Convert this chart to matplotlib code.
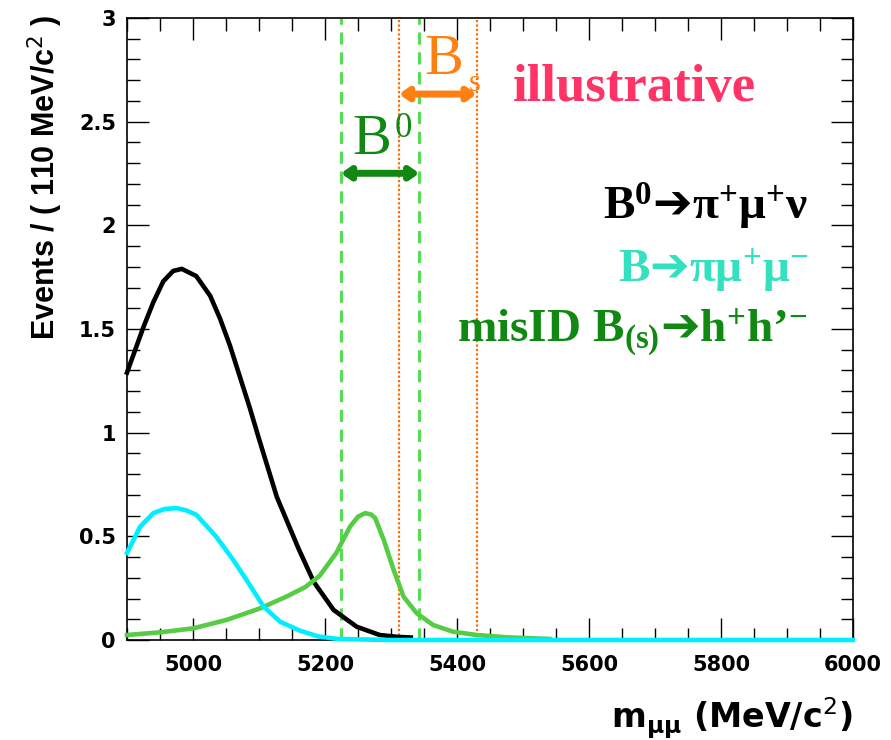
import matplotlib
matplotlib.use('Agg')
import matplotlib.pyplot as plt
from matplotlib.ticker import MultipleLocator

# curves (x in MeV/c^2, y in events)
black_x = [4900, 4925, 4940, 4955, 4970, 4983, 5005, 5026, 5041, 5056, 5071, 5086,
           5100, 5127, 5160, 5183, 5213, 5248, 5283, 5310, 5330]
black_y = [1.29, 1.51, 1.63, 1.73, 1.78, 1.79, 1.755, 1.66, 1.55, 1.42, 1.27, 1.12,
           0.97, 0.69, 0.44, 0.28, 0.145, 0.064, 0.024, 0.015, 0.012]

cyan_x = [4900, 4920, 4940, 4957, 4975, 4990, 5005, 5035, 5061, 5081, 5107, 5132,
          5162, 5190, 5220, 5300, 6000]
cyan_y = [0.42, 0.547, 0.612, 0.632, 0.636, 0.625, 0.604, 0.499, 0.386, 0.29, 0.161, 0.088,
          0.045, 0.017, 0.005, 0.0, 0.0]

green_x = [4900, 4950, 5000, 5051, 5102, 5142, 5170, 5192, 5217, 5238, 5250, 5261,
           5270, 5276, 5289, 5304, 5319, 5339, 5364, 5394, 5430, 5475, 5540]
green_y = [0.024, 0.037, 0.056, 0.097, 0.153, 0.21, 0.255, 0.31, 0.419, 0.547, 0.595, 0.612,
           0.605, 0.588, 0.483, 0.338, 0.209, 0.129, 0.072, 0.04, 0.024, 0.013, 0.005]

b0_window = [5224, 5343]
bs_window = [5312, 5430]

legend_labels = [r'B$^{0}\mathsf{➔}$π$^{+}$μ$^{+}$ν',
                 r'B$\mathsf{➔}$πμ$^{+}$μ$^{-}$',
                 r'misID B$_{(s)}\mathsf{➔}$h$^{+}$h’$^{-}$']
legend_colors = ['black', '#33e0c0', '#118811']

plt.rcParams['mathtext.fontset'] = 'custom'
plt.rcParams['mathtext.rm'] = 'Liberation Serif:bold'
plt.rcParams['mathtext.it'] = 'Liberation Serif:bold'
plt.rcParams['mathtext.bf'] = 'Liberation Serif:bold'
plt.rcParams['mathtext.sf'] = 'DejaVu Sans:bold'

fig = plt.figure(figsize=(8.91, 7.4), dpi=100)
ax = fig.add_axes([127/891, 1-640/740, (853-127)/891, (640-18)/740])

# signal windows
for xv in b0_window:
    ax.axvline(xv, color='#55dd55', lw=2.2, ls=(0, (4, 2.5)), zorder=1)
for xv in bs_window:
    ax.axvline(xv, color='#ff6a00', lw=1.6, ls=(0, (1, 1)), zorder=1)

ax.plot(black_x, black_y, color='black', lw=3.3, zorder=3, clip_on=False)
ax.plot(green_x, green_y, color='#55cc44', lw=3.3, zorder=3, clip_on=False)
ax.plot(cyan_x, cyan_y, color='#00eeff', lw=3.3, zorder=4, clip_on=False)

ax.set_xlim(4900, 6000)
ax.set_ylim(0, 3)
ax.xaxis.set_major_locator(MultipleLocator(200))
ax.xaxis.set_minor_locator(MultipleLocator(50))
ax.yaxis.set_major_locator(MultipleLocator(0.5))
ax.yaxis.set_minor_locator(MultipleLocator(0.1))
ax.tick_params(which='both', direction='in', top=True, right=True, width=1)
ax.tick_params(which='major', length=16)
ax.tick_params(which='minor', length=9)
ax.tick_params(axis='x', which='major', pad=11)
ax.tick_params(axis='y', which='major', pad=8)
ax.yaxis.set_major_formatter(plt.FuncFormatter(lambda v, p: '%g' % v))
for lab in ax.get_xticklabels() + ax.get_yticklabels():
    lab.set_fontfamily('DejaVu Sans')
    lab.set_fontweight('bold')
    lab.set_fontsize(15)
for sp in ax.spines.values():
    sp.set_linewidth(1.2)

# arrows marking the windows
ax.annotate('', xy=(bs_window[1], 2.633), xytext=(bs_window[0], 2.633),
            arrowprops=dict(arrowstyle='<->,head_length=0.5,head_width=0.35', lw=5,
                            color='#ff7f10', shrinkA=0, shrinkB=0))
ax.annotate('', xy=(b0_window[1], 2.251), xytext=(b0_window[0], 2.251),
            arrowprops=dict(arrowstyle='<->,head_length=0.5,head_width=0.35', lw=5,
                            color='#118811', shrinkA=0, shrinkB=0))
ax.text(5351, 2.73, 'B', color='#ff7f10', fontsize=42, family='Liberation Serif', va='baseline')
ax.text(5418, 2.647, 's', color='#ff7f10', fontsize=22, family='Liberation Serif', va='baseline')
ax.text(5242, 2.343, 'B', color='#118811', fontsize=42, family='Liberation Serif', va='baseline')
ax.text(5306, 2.546, '0', color='#118811', fontsize=25, family='Liberation Serif', va='top')

ax.text(5485, 2.60, 'illustrative', color='#ff3366', fontsize=38, family='Liberation Serif',
        fontweight='bold', va='baseline')

for lab, col, yb in zip(legend_labels, legend_colors, [2.029, 1.729, 1.435]):
    ax.text(5932, yb, lab, color=col, fontsize=34, family='Liberation Serif',
            fontweight='bold', ha='right', va='baseline')

fig.text(45/891, 1-15/740, r'Events / ( 110 MeV/c$^{2}$ )', rotation=90, ha='center', va='top',
         family='Liberation Sans', fontweight='bold', fontsize=22, math_fontfamily='dejavusans')
fig.text(852/891, 1-728/740, r'm$_{\mathregular{μμ}}$ (MeV/c$^{2}$)', ha='right', va='baseline',
         family='DejaVu Sans', fontweight='bold', fontsize=24, math_fontfamily='dejavusans')

fig.savefig('out.png', dpi=100)
